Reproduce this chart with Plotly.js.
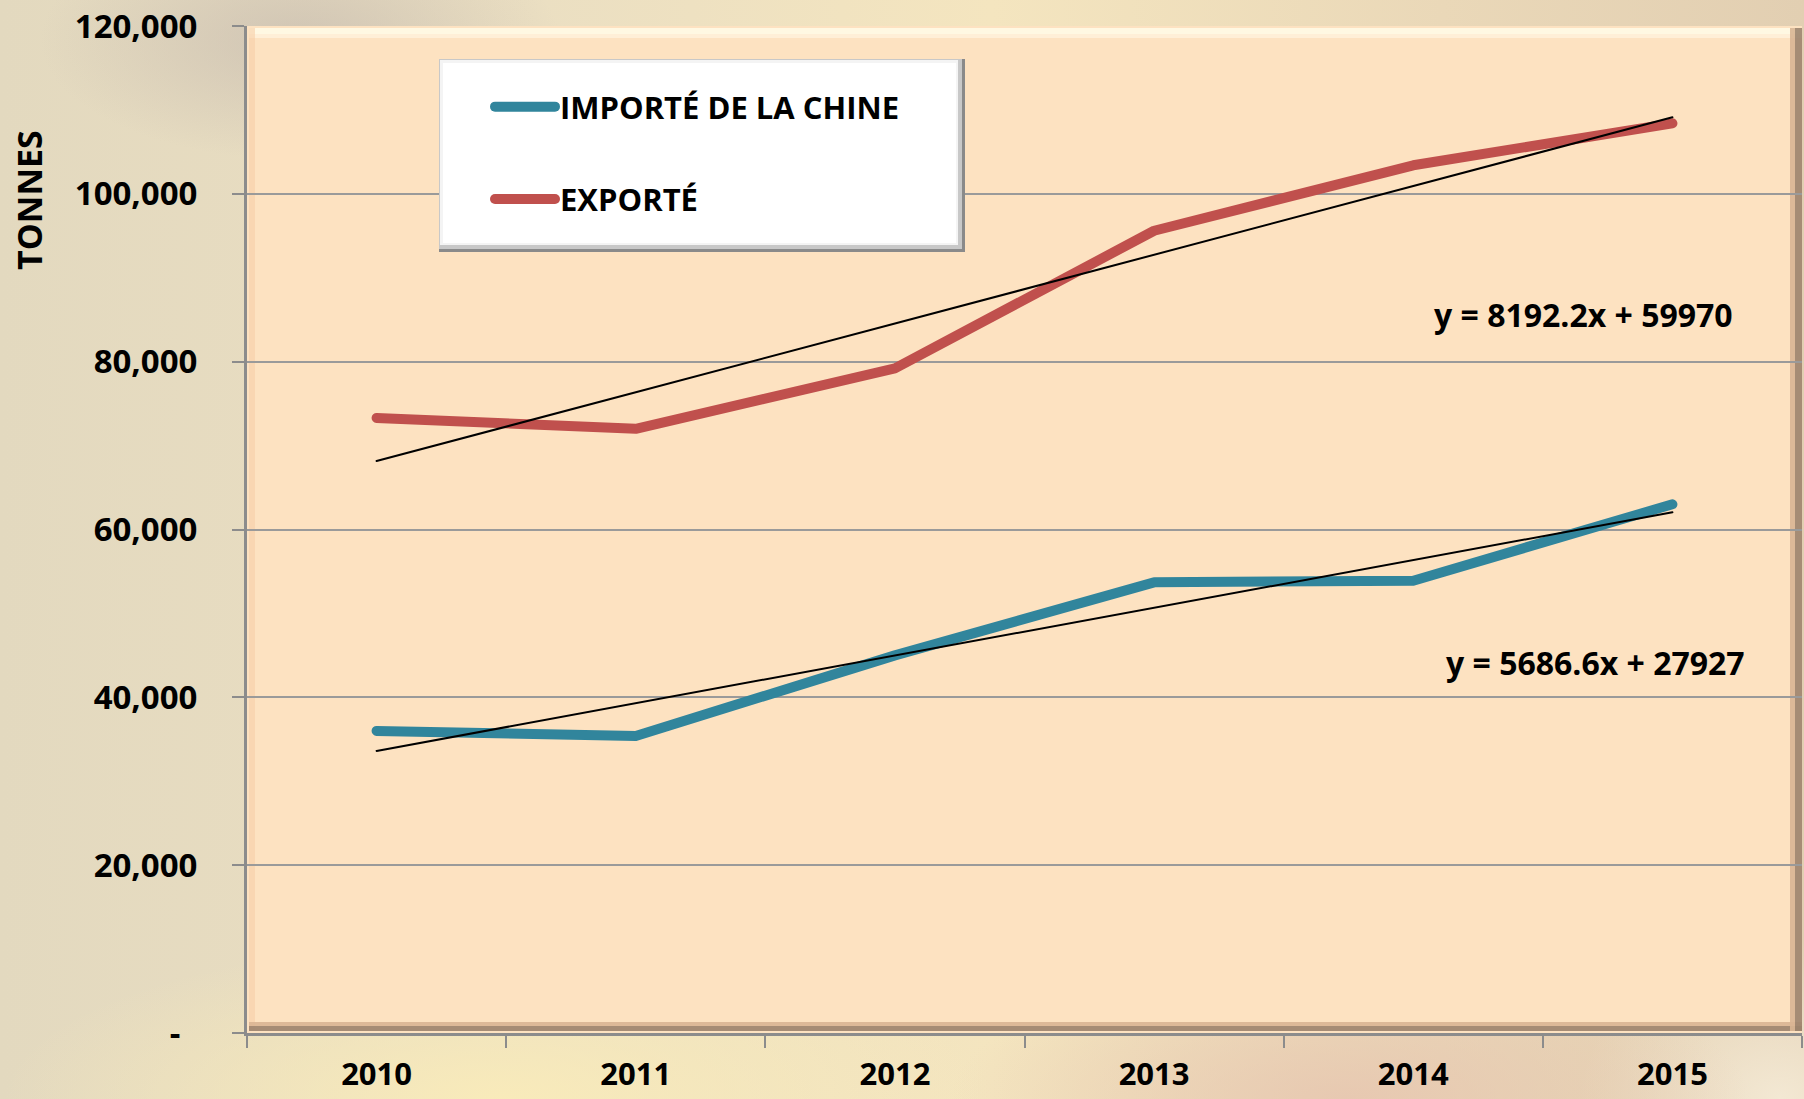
<!DOCTYPE html>
<html>
<head>
<meta charset="utf-8">
<script src="https://cdn.plot.ly/plotly-3.0.1.min.js"></script>
<style>
  html, body { margin: 0; padding: 0; width: 1804px; height: 1099px; overflow: hidden; }
  body {
    background:
      radial-gradient(ellipse 260px 120px at 300px 40px, rgba(190,178,170,0.55), rgba(190,178,170,0) 100%),
      radial-gradient(ellipse 500px 160px at 500px 1099px, rgba(250,236,185,0.9), rgba(250,236,185,0) 100%),
      radial-gradient(ellipse 400px 140px at 1350px 1099px, rgba(230,196,175,0.8), rgba(230,196,175,0) 100%),
      radial-gradient(ellipse 200px 160px at 1780px 1099px, rgba(245,235,215,0.9), rgba(245,235,215,0) 100%),
      linear-gradient(to right, #e3d9bf 0%, #ebdfc2 30%, #f4e5bf 55%, #ead8b8 80%, #e2cfb2 100%);
  }
  #chart { width: 1804px; height: 1099px; }
  .js-plotly-plot .scatterlayer .js-line,
  .js-plotly-plot .legend .legendlines path { stroke-linecap: round; stroke-linejoin: round; }
</style>
</head>
<body>
<div id="chart"></div>
<script>
// ---- data ----
const years = ['2010', '2011', '2012', '2013', '2014', '2015'];
const importeChine = [36000, 35400, 45000, 53700, 53900, 63000];
const exporte = [73300, 72000, 79200, 95600, 103400, 108400];
const seriesNames = ['IMPORTÉ DE LA CHINE', 'EXPORTÉ'];
const trendSlopes = [5686.6, 8192.2];
const trendIntercepts = [27927, 59970];
const yTickVals = [0, 20000, 40000, 60000, 80000, 100000, 120000];
const yTickText = ['-\u00a0\u00a0', '20,000', '40,000', '60,000', '80,000', '100,000', '120,000'];
const yAxisTitle = 'TONNES';

// ---- styling ----
const colors = ['#31859C', '#C0504D'];
const FONT = "'Open Sans', 'Liberation Sans', sans-serif";
const W = 1804, H = 1099;
const M = { l: 247, r: 2, t: 26, b: 66 };
const PW = W - M.l - M.r, PH = H - M.t - M.b;
const px2x = px => (px - M.l) / PW;
const px2y = py => 1 - (py - M.t) / PH;

// trend lines from the displayed equations (x = 1..n)
function trendTrace(i) {
  const n = years.length;
  return {
    x: [years[0], years[n - 1]],
    y: [trendSlopes[i] * 1 + trendIntercepts[i], trendSlopes[i] * n + trendIntercepts[i]],
    mode: 'lines', type: 'scatter', showlegend: false, hoverinfo: 'skip',
    line: { color: '#000000', width: 2 }
  };
}
function eqText(i) {
  return 'y = ' + trendSlopes[i] + 'x + ' + trendIntercepts[i];
}

const traces = [
  { x: years, y: importeChine, name: seriesNames[0], legendgroup: 'a', mode: 'lines', type: 'scatter',
    line: { color: colors[0], width: 10 } },
  { x: years, y: exporte, name: seriesNames[1], legendgroup: 'b', mode: 'lines', type: 'scatter',
    line: { color: colors[1], width: 10 } },
  trendTrace(0),
  trendTrace(1)
];

// legend box (px) and bevels
const lb = { x0: 439, x1: 965, y0: 59, y1: 252 };
function rectPx(x0, y0, x1, y1, fill, layer, opacity) {
  return { type: 'rect', xref: 'paper', yref: 'paper', x0: px2x(x0), x1: px2x(x1), y0: px2y(y1), y1: px2y(y0),
    line: { width: 0 }, fillcolor: fill, layer: layer || 'above', opacity: opacity == null ? 1 : opacity };
}
const shapes = [
  // plot area bevels
  rectPx(249, 28, 1802, 34, '#fffbe6', 'below', 0.9),
  rectPx(249, 34, 1802, 38, '#fff3dc', 'below', 0.8),
  rectPx(249, 28, 255, 1030, '#f7cfa8', 'below', 0.6),
  rectPx(249, 1022, 1802, 1026, '#d9b594', 'below', 0.9),
  rectPx(249, 1026, 1802, 1031, '#9c836d', 'below', 0.9),
  rectPx(1790, 28, 1795, 1031, '#d9b594', 'below', 0.9),
  rectPx(1795, 28, 1802, 1031, '#9c836d', 'below', 0.9),
  // legend box
  rectPx(lb.x0, lb.y0, lb.x1, lb.y1, '#8a8a8a', 'above'),
  rectPx(lb.x0, lb.y0, lb.x1 - 3, lb.y1 - 3, '#c8c8c8', 'above'),
  rectPx(lb.x0 + 1, lb.y0 + 1, lb.x1 - 7, lb.y1 - 7, '#f4f4f4', 'above'),
  rectPx(lb.x0 + 4, lb.y0 + 4, lb.x1 - 9, lb.y1 - 9, '#ffffff', 'above')
];

const tickFont = { family: FONT, size: 33, color: '#000000', weight: 'bold' };

const layout = {
  width: W, height: H,
  margin: M,
  paper_bgcolor: 'rgba(0,0,0,0)',
  plot_bgcolor: '#FDE2C1',
  font: { family: FONT, color: '#000000' },
  showlegend: true,
  legend: {
    x: px2x(490), y: px2y(80), xanchor: 'left', yanchor: 'top',
    bgcolor: 'rgba(0,0,0,0)', borderwidth: 0,
    font: { family: FONT, size: 31, color: '#000000', weight: 'bold' },
    traceorder: 'grouped', tracegroupgap: 49, itemwidth: 60
  },
  xaxis: {
    type: 'category', tickson: 'boundaries', range: [-0.5, 5.5],
    ticks: 'outside', ticklen: 12, tickwidth: 2, tickcolor: '#8c8c8c',
    showline: true, linecolor: '#8c8c8c', linewidth: 3,
    showgrid: false, zeroline: false,
    tickfont: { family: FONT, size: 31, color: '#000000', weight: 'bold' }, ticklabelstandoff: 12,
    fixedrange: true
  },
  yaxis: {
    range: [0, 120000],
    tickvals: yTickVals, ticktext: yTickText,
    ticks: 'outside', ticklen: 12, tickwidth: 2, tickcolor: '#8c8c8c',
    showline: true, linecolor: '#8c8c8c', linewidth: 3,
    showgrid: true, gridcolor: '#9a9a9a', gridwidth: 2,
    zeroline: false,
    tickfont: tickFont, ticklabelstandoff: 28,
    fixedrange: true
  },
  shapes: shapes,
  annotations: [
    { text: yAxisTitle, textangle: -90, xref: 'paper', yref: 'paper', x: px2x(29), y: px2y(200),
      xanchor: 'center', yanchor: 'middle', showarrow: false,
      font: { family: FONT, size: 34, color: '#000000', weight: 'bold' } },
    { text: eqText(1), x: 4.655, y: 85600, xref: 'x', yref: 'y', showarrow: false,
      font: { family: FONT, size: 32, color: '#000000', weight: 'bold' } },
    { text: eqText(0), x: 4.705, y: 44100, xref: 'x', yref: 'y', showarrow: false,
      font: { family: FONT, size: 32, color: '#000000', weight: 'bold' } }
  ]
};

Plotly.newPlot('chart', traces, layout, { displayModeBar: false, staticPlot: true });
</script>
</body>
</html>
